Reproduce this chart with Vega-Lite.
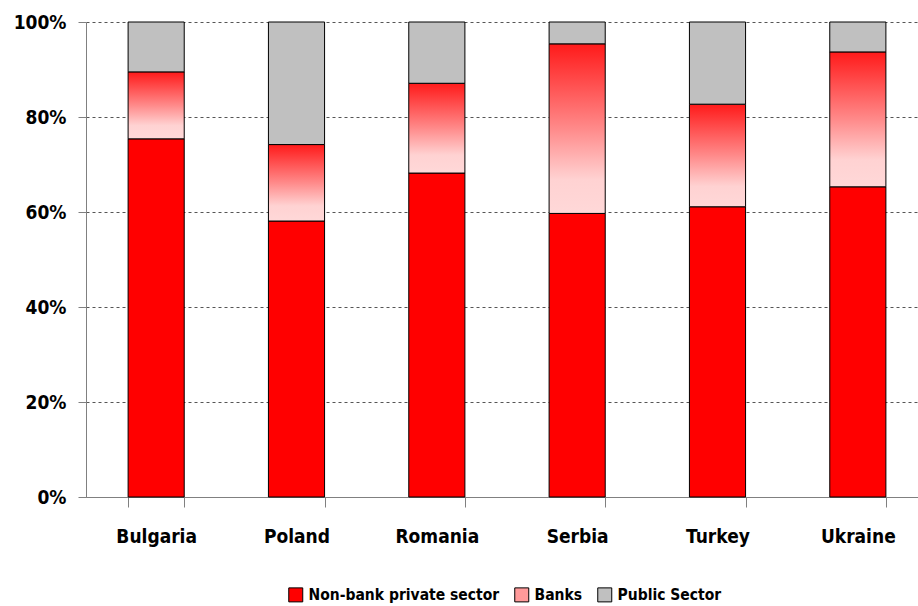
{
  "$schema": "https://vega.github.io/schema/vega-lite/v6.json",
  "width": 832,
  "height": 475,
  "autosize": {"type": "none"},
  "padding": {"left": 86, "top": 22, "right": 0, "bottom": 109},
  "background": "white",
  "config": {"view": {"stroke": null}, "font": "DejaVu Sans Condensed"},
  "data": {"values": [
    {"country": "Bulgaria", "sector": "Non-bank private sector", "value": 75.4},
    {"country": "Bulgaria", "sector": "Banks", "value": 14.1},
    {"country": "Bulgaria", "sector": "Public Sector", "value": 10.5},
    {"country": "Poland", "sector": "Non-bank private sector", "value": 58.1},
    {"country": "Poland", "sector": "Banks", "value": 16.1},
    {"country": "Poland", "sector": "Public Sector", "value": 25.8},
    {"country": "Romania", "sector": "Non-bank private sector", "value": 68.2},
    {"country": "Romania", "sector": "Banks", "value": 18.9},
    {"country": "Romania", "sector": "Public Sector", "value": 12.9},
    {"country": "Serbia", "sector": "Non-bank private sector", "value": 59.7},
    {"country": "Serbia", "sector": "Banks", "value": 35.7},
    {"country": "Serbia", "sector": "Public Sector", "value": 4.6},
    {"country": "Turkey", "sector": "Non-bank private sector", "value": 61.1},
    {"country": "Turkey", "sector": "Banks", "value": 21.6},
    {"country": "Turkey", "sector": "Public Sector", "value": 17.3},
    {"country": "Ukraine", "sector": "Non-bank private sector", "value": 65.3},
    {"country": "Ukraine", "sector": "Banks", "value": 28.4},
    {"country": "Ukraine", "sector": "Public Sector", "value": 6.3}
  ]},
  "transform": [{"stack": "value", "groupby": ["country"], "as": ["v0", "v1"]}],
  "mark": {"type": "bar", "stroke": "#000", "strokeWidth": 1},
  "encoding": {
    "x": {
      "field": "country", "type": "nominal", "sort": null,
      "scale": {"range": [0, 842], "paddingInner": 0.6, "paddingOuter": 0.3},
      "axis": {"title": null, "labelAngle": 0, "tickBand": "extent", "tickSize": 10, "tickColor": "#808080", "domainColor": "#808080", "labelFontSize": 19, "labelFontWeight": "bold", "labelColor": "#000", "labelPadding": 20, "grid": false}
    },
    "y": {
      "field": "v1", "type": "quantitative",
      "scale": {"domain": [0, 100], "nice": false},
      "axis": {"title": null, "values": [0, 20, 40, 60, 80, 100], "labelExpr": "datum.value + '%'", "grid": true, "gridDash": [3, 3], "gridColor": "#555", "domainColor": "#808080", "tickColor": "#808080", "tickSize": 8, "labelFontSize": 19, "labelFontWeight": "bold", "labelColor": "#000", "labelPadding": 12}
    },
    "y2": {"field": "v0"},
    "fill": {
      "field": "sector", "type": "nominal",
      "scale": {"domain": ["Non-bank private sector", "Banks", "Public Sector"], "range": ["#ff0000", "#ff9a9a", "#c0c0c0"]},
      "condition": {"test": "datum.sector === 'Banks'", "value": {"gradient": "linear", "x1": 0, "y1": 0, "x2": 0, "y2": 1, "stops": [{"offset": 0, "color": "#ff1a1a"}, {"offset": 0.5, "color": "#ff8a8a"}, {"offset": 0.8, "color": "#ffd2d2"}, {"offset": 1, "color": "#ffd8d8"}]}},
      "legend": {
        "orient": "none", "legendX": 202, "legendY": 565, "direction": "horizontal", "title": null,
        "symbolType": "square", "symbolSize": 196, "symbolStrokeColor": "#000", "symbolStrokeWidth": 1,
        "labelFontSize": 15.5, "labelFontWeight": "bold", "labelColor": "#000", "labelOffset": 5, "columnPadding": 12, "labelLimit": 400
      }
    }
  }
}
